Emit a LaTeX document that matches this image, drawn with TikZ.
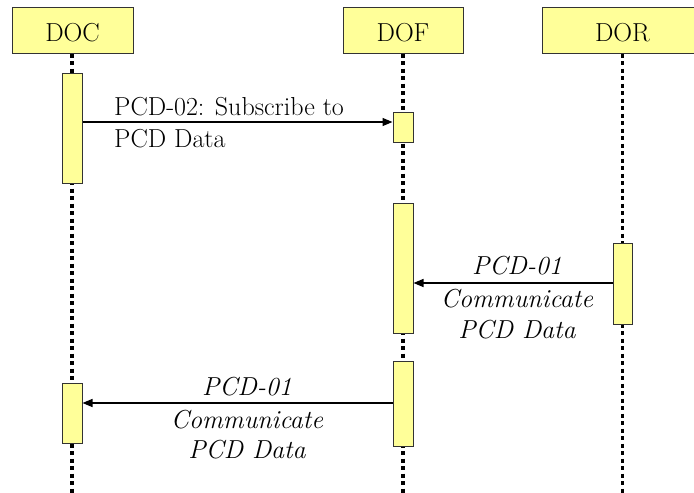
\documentclass[tikz,border=0pt]{standalone}
\usetikzlibrary{arrows.meta}
\definecolor{boxfill}{HTML}{FFFF99}
\definecolor{boxline}{HTML}{333333}
\begin{document}
\begin{tikzpicture}[x=1pt,y=-1pt,
  head/.style={draw=boxline, line width=1pt, fill=boxfill, minimum width=121pt, minimum height=46pt, inner sep=0pt, font=\fontsize{26}{32}\selectfont, text height=22pt, text depth=0pt},
  act/.style={draw=boxline, line width=1pt, fill=boxfill, minimum width=20pt, inner sep=0pt},
  life/.style={line width=3.5pt, dash pattern=on 4pt off 3.5pt},
  msg/.style={line width=1.3pt, -{Triangle[length=10pt,width=8pt]}},
  lbl/.style={inner sep=0pt, font=\fontsize{26}{32}\selectfont},
  ilbl/.style={inner sep=0pt, font=\fontsize{26}{32}\selectfont\itshape}]
\useasboundingbox (0,0) rectangle (694,493);
\clip (0,0) rectangle (694,493);
% headers
\node[head] (doc) at (72.5,30) {DOC};
\node[head, minimum width=120pt] (dof) at (403,30) {DOF};
\node[head, minimum width=161pt] (dor) at (622.5,30) {DOR};
% lifeline ends
\coordinate (docEnd) at (72,500);
\coordinate (dofEnd) at (403,500);
\coordinate (dorEnd) at (622.5,500);
\draw[life] (doc.south -| docEnd) -- (docEnd);
\draw[life] (dof.south -| dofEnd) -- (dofEnd);
\draw[life] (dor.south -| dorEnd) -- (dorEnd);
% activations
\node[act, minimum height=110pt] (docA1) at (72,128) {};
\node[act, minimum height=30pt] (dofA1) at (403,127) {};
\node[act, minimum height=130pt] (dofA2) at (403,268) {};
\node[act, minimum height=81pt, minimum width=19pt] (dorA) at (622.5,283.5) {};
\node[act, minimum height=85pt] (dofA3) at (403,403.5) {};
\node[act, minimum height=60pt] (docA2) at (72,413) {};
% messages
\coordinate (m1) at (0,122);
\coordinate (m2) at (0,283);
\coordinate (m3) at (0,403);
\draw[msg] (docA1.east |- m1) -- (dofA1.west |- m1);
\draw[msg] (dorA.west |- m2) -- (dofA2.east |- m2);
\draw[msg] (dofA3.west |- m3) -- (docA2.east |- m3);
% labels
\node[lbl, anchor=base west] (m1a) at (114,115) {PCD-02: Subscribe to};
\node[lbl, anchor=base west] (m1b) at (114,147) {PCD Data};
\node[ilbl, anchor=base] (m2a) at (517,274) {PCD-01};
\node[ilbl, anchor=base] (m2b) at (517,307) {Communicate};
\node[ilbl, anchor=base] (m2c) at (517,338) {PCD Data};
\node[ilbl, anchor=base] (m3a) at (247,395) {PCD-01};
\node[ilbl, anchor=base] (m3b) at (247,428) {Communicate};
\node[ilbl, anchor=base] (m3c) at (247,458) {PCD Data};
\end{tikzpicture}
\end{document}
